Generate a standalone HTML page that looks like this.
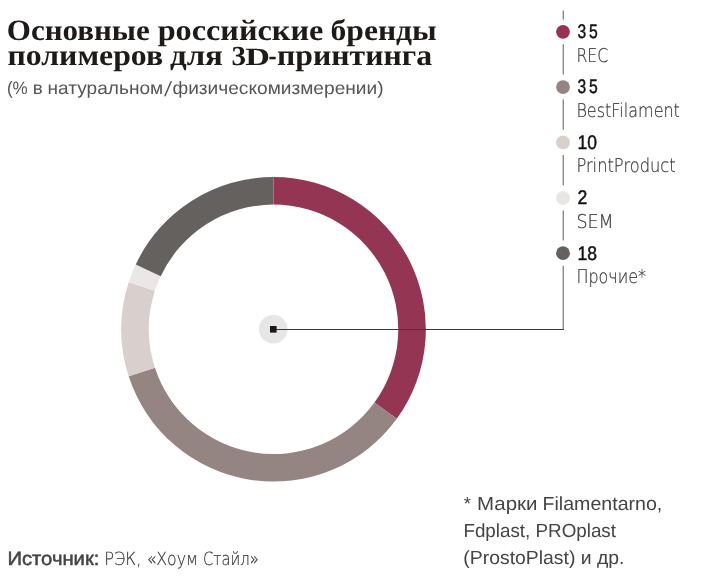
<!DOCTYPE html>
<html lang="ru">
<head>
<meta charset="utf-8">
<title>Основные российские бренды полимеров для 3D-принтинга</title>
<style>
html,body{margin:0;padding:0;background:#fff;}
body{width:706px;height:582px;overflow:hidden;}
svg{display:block;will-change:transform;}
text{text-rendering:geometricPrecision;}
.title{font-family:"Liberation Serif","DejaVu Serif",serif;font-weight:700;font-size:29.5px;fill:#1d1a18;}
.sub{font-family:"Liberation Sans","DejaVu Sans",sans-serif;font-size:17.9px;fill:#555;}
.val{font-family:"Liberation Sans","DejaVu Sans",sans-serif;font-weight:400;font-size:19.6px;fill:#111;stroke:#111;stroke-width:0.45px;}
.lab{font-family:"DejaVu Sans","Liberation Sans",sans-serif;font-weight:200;font-size:19px;fill:#383838;stroke:#383838;stroke-width:0.2px;}
.src{font-family:"DejaVu Sans","Liberation Sans",sans-serif;font-weight:200;font-size:18.2px;fill:#383838;stroke:#383838;stroke-width:0.2px;}
.srcb{font-family:"Liberation Sans","DejaVu Sans",sans-serif;font-weight:400;font-size:19.2px;fill:#444;stroke:#444;stroke-width:0.5px;}
.note{font-family:"Liberation Sans","DejaVu Sans",sans-serif;font-size:19px;fill:#444;}
.vl{stroke:#6a6a6a;stroke-width:1.1;fill:none;}
</style>
</head>
<body>
<svg width="706" height="582" viewBox="0 0 706 582">
<rect width="706" height="582" fill="#fff"/>
<text y="39.5" class="title"><tspan x="6.82" textLength="143.02" lengthAdjust="spacingAndGlyphs">Основные</tspan> <tspan x="157.65" textLength="165.70" lengthAdjust="spacingAndGlyphs">российские</tspan> <tspan x="330.58" textLength="106.14" lengthAdjust="spacingAndGlyphs">бренды</tspan></text>
<text y="65.2" class="title"><tspan x="7.49" textLength="155.66" lengthAdjust="spacingAndGlyphs">полимеров</tspan> <tspan x="169.97" textLength="52.95" lengthAdjust="spacingAndGlyphs">для</tspan> <tspan x="231.62" textLength="14.52" lengthAdjust="spacingAndGlyphs" style="font-size:27.5px">3</tspan><tspan x="245.25" textLength="24.71" lengthAdjust="spacingAndGlyphs" style="font-size:24.8px">D</tspan><tspan x="268.44" textLength="8.11" lengthAdjust="spacingAndGlyphs" style="font-size:29.5px">-</tspan><tspan x="277.07" textLength="155.01" lengthAdjust="spacingAndGlyphs" style="font-size:29.5px">принтинга</tspan></text>
<text y="93.6" class="sub"><tspan x="6.90" textLength="20.82" lengthAdjust="spacingAndGlyphs">(%</tspan> <tspan x="32.78" textLength="9.98" lengthAdjust="spacingAndGlyphs">в</tspan> <tspan x="47.59" textLength="115.64" lengthAdjust="spacingAndGlyphs">натуральном</tspan></text>
<text x="0" y="0" class="sub" style="font-size:20.5px" transform="translate(164.1 96.4) skewX(-9)">/</text>
<text y="93.6" class="sub"><tspan x="172.43" textLength="211.14" lengthAdjust="spacingAndGlyphs">физическомизмерении)</tspan></text>
<path d="M273.55 177.00A152.3 152.3 0 0 1 396.76 418.82L374.43 402.60A124.7 124.7 0 0 0 273.55 204.60Z" fill="#943653"/>
<path d="M396.76 418.82A152.3 152.3 0 0 1 128.70 376.36L154.95 367.83A124.7 124.7 0 0 0 374.43 402.60Z" fill="#958582"/>
<path d="M128.70 376.36A152.3 152.3 0 0 1 128.70 282.24L154.95 290.77A124.7 124.7 0 0 0 154.95 367.83Z" fill="#d9d0ce"/>
<path d="M128.70 282.24A152.3 152.3 0 0 1 135.74 264.45L160.72 276.21A124.7 124.7 0 0 0 154.95 290.77Z" fill="#ece7e6"/>
<path d="M135.74 264.45A152.3 152.3 0 0 1 273.55 177.00L273.55 204.60A124.7 124.7 0 0 0 160.72 276.21Z" fill="#65615f"/>
<circle cx="273.2" cy="329.2" r="14.3" fill="#e6e6e6"/>
<path d="M276 329.5H563.8" stroke="#3a3a3a" stroke-width="1" fill="none"/>
<rect x="270" y="326" width="6.6" height="6.6" fill="#1c1714"/>
<path d="M563.25 10.4V19.6" class="vl"/>
<path d="M563.25 44.2V74.5" class="vl"/>
<path d="M563.25 99.6V129.8" class="vl"/>
<path d="M563.25 155.0V185.2" class="vl"/>
<path d="M563.25 210.5V240.6" class="vl"/>
<path d="M563.25 265.8V330" class="vl"/>
<circle cx="563" cy="31.8" r="6.9" fill="#9a3056"/>
<text y="38.0" class="val"><tspan x="577.55" textLength="8.67" lengthAdjust="spacingAndGlyphs">3</tspan><tspan x="589.09" textLength="8.77" lengthAdjust="spacingAndGlyphs">5</tspan></text>
<text x="576.4" y="61.6" class="lab" textLength="32" lengthAdjust="spacingAndGlyphs">REC</text>
<circle cx="563" cy="87.1" r="6.9" fill="#958582"/>
<text y="93.2" class="val"><tspan x="577.55" textLength="8.67" lengthAdjust="spacingAndGlyphs">3</tspan><tspan x="589.09" textLength="8.77" lengthAdjust="spacingAndGlyphs">5</tspan></text>
<text x="576.4" y="116.8" class="lab" textLength="103.5" lengthAdjust="spacingAndGlyphs">BestFilament</text>
<circle cx="563" cy="142.4" r="6.9" fill="#d9d0ce"/>
<text x="577.6" y="148.8" class="val" textLength="19.5" lengthAdjust="spacingAndGlyphs">10</text>
<text x="576.4" y="172.1" class="lab" textLength="99.3" lengthAdjust="spacingAndGlyphs">PrintProduct</text>
<circle cx="563" cy="198.0" r="6.9" fill="#e8e5e4"/>
<text x="577.6" y="204.4" class="val" textLength="9.8" lengthAdjust="spacingAndGlyphs">2</text>
<text x="576.4" y="227.7" class="lab" textLength="37.3" lengthAdjust="spacingAndGlyphs">SEM</text>
<circle cx="563" cy="253.2" r="6.9" fill="#65615f"/>
<text x="577.6" y="259.6" class="val" textLength="19.5" lengthAdjust="spacingAndGlyphs">18</text>
<text x="576.4" y="282.9" class="lab" textLength="69.6" lengthAdjust="spacingAndGlyphs">Прочие*</text>
<text x="7.4" y="564.7" class="srcb" textLength="92" lengthAdjust="spacingAndGlyphs">Источник:</text>
<text y="564.7" class="src"><tspan x="104.15" textLength="37.16" lengthAdjust="spacingAndGlyphs">РЭК,</tspan> <tspan x="146.63" textLength="51.39" lengthAdjust="spacingAndGlyphs">«Хоум</tspan> <tspan x="203.04" textLength="55.68" lengthAdjust="spacingAndGlyphs">Стайл»</tspan></text>
<text y="509.5" class="note"><tspan x="463.81" textLength="7.22" lengthAdjust="spacingAndGlyphs">*</tspan> <tspan x="477.06" textLength="60.47" lengthAdjust="spacingAndGlyphs">Марки</tspan> <tspan x="542.56" textLength="119.78" lengthAdjust="spacingAndGlyphs">Filamentarno,</tspan></text>
<text x="463.4" y="536.7" class="note" textLength="152.6" lengthAdjust="spacingAndGlyphs">Fdplast, PROplast</text>
<text x="463.3" y="563.8" class="note" textLength="161.2" lengthAdjust="spacingAndGlyphs">(ProstoPlast) и др.</text>
</svg>
</body>
</html>
